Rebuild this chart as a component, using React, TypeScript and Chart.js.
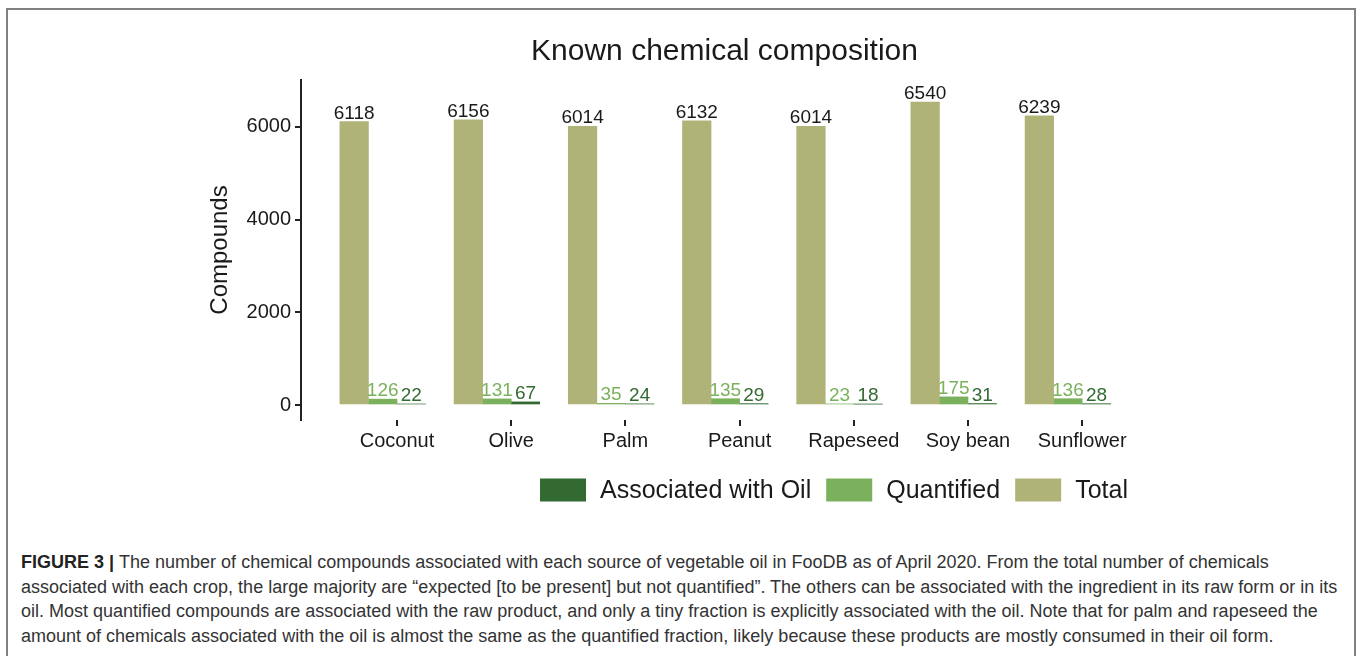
import React, { useEffect, useRef } from "react";
import { Chart, registerables } from "chart.js";

Chart.register(...registerables);

const categories = ["Coconut", "Olive", "Palm", "Peanut", "Rapeseed", "Soy bean", "Sunflower"];
const totalValues = [6118, 6156, 6014, 6132, 6014, 6540, 6239];
const quantifiedValues = [126, 131, 35, 135, 23, 175, 136];
const oilValues = [22, 67, 24, 29, 18, 31, 28];
// fourth (empty) dodge slot used by the original figure
const emptySlotValues = [0, 0, 0, 0, 0, 0, 0];
const yTicks = [0, 2000, 4000, 6000];

const seriesNames = ["Total", "Quantified", "Associated with Oil"];
const seriesColors = ["#afb377", "#7bb15c", "#336a32"];
const labelColors = ["#1a1a1a", "#7bb15c", "#336a32"];

const FONT = "'Liberation Sans', Arial, Helvetica, sans-serif";

const valueLabelPlugin = {
  id: "valueLabels",
  afterDatasetsDraw(chart: any) {
    const ctx = chart.ctx;
    ctx.save();
    ctx.font = `19px ${FONT}`;
    ctx.textAlign = "center";
    ctx.textBaseline = "alphabetic";
    chart.data.datasets.forEach((ds: any, di: number) => {
      if (ds.isEmptySlot) return;
      const meta = chart.getDatasetMeta(di);
      meta.data.forEach((bar: any, i: number) => {
        ctx.fillStyle = labelColors[di];
        ctx.fillText(String(ds.data[i].y), bar.x, bar.y - 3);
      });
    });
    ctx.restore();
  },
};

const legendPlugin = {
  id: "customLegend",
  afterDraw(chart: any) {
    const ctx = chart.ctx;
    ctx.save();
    ctx.font = `25px ${FONT}`;
    ctx.textBaseline = "middle";
    ctx.textAlign = "left";
    const order = [2, 1, 0];
    const boxW = 46, boxH = 23, gapText = 14, gapItem = 15;
    let total = 0;
    order.forEach((d, k) => {
      total += boxW + gapText + ctx.measureText(seriesNames[d]).width;
      if (k < order.length - 1) total += gapItem;
    });
    let x = 834 - total / 2;
    const yc = chart.chartArea.bottom + 70;
    order.forEach((d) => {
      ctx.fillStyle = seriesColors[d];
      ctx.fillRect(x, yc - boxH / 2, boxW, boxH);
      x += boxW + gapText;
      ctx.fillStyle = "#1a1a1a";
      ctx.fillText(seriesNames[d], x, yc + 1);
      x += ctx.measureText(seriesNames[d]).width + gapItem;
    });
    ctx.restore();
  },
};

export default function App() {
  const canvasRef = useRef<HTMLCanvasElement | null>(null);

  useEffect(() => {
    document.body.style.margin = "0";
    const canvas = canvasRef.current;
    if (!canvas) return;
    const makeData = (vals: number[]) => vals.map((v, i) => ({ x: i, y: v }));
    const chart = new Chart(canvas, {
      type: "bar",
      data: {
        datasets: [
          { label: seriesNames[0], data: makeData(totalValues), backgroundColor: seriesColors[0] },
          { label: seriesNames[1], data: makeData(quantifiedValues), backgroundColor: seriesColors[1] },
          { label: seriesNames[2], data: makeData(oilValues), backgroundColor: seriesColors[2] },
          { label: "", data: makeData(emptySlotValues), backgroundColor: "rgba(0,0,0,0)", isEmptySlot: true } as any,
        ],
      },
      options: {
        animation: false,
        responsive: false,
        maintainAspectRatio: false,
        datasets: { bar: { barPercentage: 1, categoryPercentage: 1, borderWidth: 0 } },
        layout: { padding: { left: 195, right: 212, top: 0, bottom: 70 } },
        plugins: {
          legend: { display: false },
          tooltip: { enabled: false },
          title: {
            display: true,
            text: "Known chemical composition",
            fullSize: false,
            color: "#1a1a1a",
            font: { family: FONT, size: 30, weight: "normal" as any, lineHeight: 1.2 },
            padding: { top: 34, bottom: 10 },
          },
        },
        scales: {
          x: {
            type: "linear",
            min: -0.8406,
            max: 6.5764,
            offset: false,
            border: { display: false },
            grid: { display: true, offset: false, drawOnChartArea: false, drawTicks: true, tickLength: 6, color: "#222", lineWidth: 2 },
            afterBuildTicks: (scale: any) => {
              scale.ticks = categories.map((_, i) => ({ value: i }));
            },
            afterFit: (scale: any) => {
              scale.height = 40;
            },
            ticks: {
              autoSkip: false,
              maxRotation: 0,
              padding: 3,
              color: "#1a1a1a",
              font: { family: FONT, size: 20 },
              callback: (v: any) => categories[v] ?? "",
            },
          },
          y: {
            min: -324,
            max: 7014,
            border: { display: true, color: "#222", width: 2 },
            grid: { display: true, drawOnChartArea: false, drawTicks: true, tickLength: 6, color: "#222", lineWidth: 2 },
            afterBuildTicks: (scale: any) => {
              scale.ticks = yTicks.map((v) => ({ value: v }));
            },
            afterFit: (scale: any) => {
              scale.width = 106;
            },
            ticks: {
              padding: 4,
              color: "#1a1a1a",
              font: { family: FONT, size: 20 },
              callback: (v: any) => String(v),
            },
            title: {
              display: true,
              text: "Compounds",
              color: "#1a1a1a",
              font: { family: FONT, size: 24 },
              padding: { top: 11, bottom: 0 },
            },
          },
        },
      },
      plugins: [valueLabelPlugin, legendPlugin],
    } as any);
    return () => chart.destroy();
  }, []);

  const captionLines = [
    "The number of chemical compounds associated with each source of vegetable oil in FooDB as of April 2020. From the total number of chemicals",
    "associated with each crop, the large majority are \u201cexpected [to be present] but not quantified\u201d. The others can be associated with the ingredient in its raw form or in its",
    "oil. Most quantified compounds are associated with the raw product, and only a tiny fraction is explicitly associated with the oil. Note that for palm and rapeseed the",
    "amount of chemicals associated with the oil is almost the same as the quantified fraction, likely because these products are mostly consumed in their oil form.",
  ];

  return (
    <div style={{ position: "relative", width: 1360, height: 656, overflow: "hidden", background: "#fff" }}>
      <div
        style={{
          position: "absolute",
          left: 6,
          top: 8,
          width: 1350,
          height: 700,
          border: "2px solid #808080",
          boxSizing: "border-box",
        }}
      />
      <canvas ref={canvasRef} width={1360} height={530} style={{ position: "absolute", left: 0, top: 0 }} />
      <div
        style={{
          position: "absolute",
          left: 21,
          top: 550,
          fontFamily: FONT,
          fontSize: 18,
          lineHeight: "24.6px",
          color: "#333",
          whiteSpace: "nowrap",
        }}
      >
        {captionLines.map((line, i) => (
          <div key={i}>
            {i === 0 ? <b style={{ color: "#222" }}>FIGURE 3 | </b> : null}
            {line}
          </div>
        ))}
      </div>
    </div>
  );
}
